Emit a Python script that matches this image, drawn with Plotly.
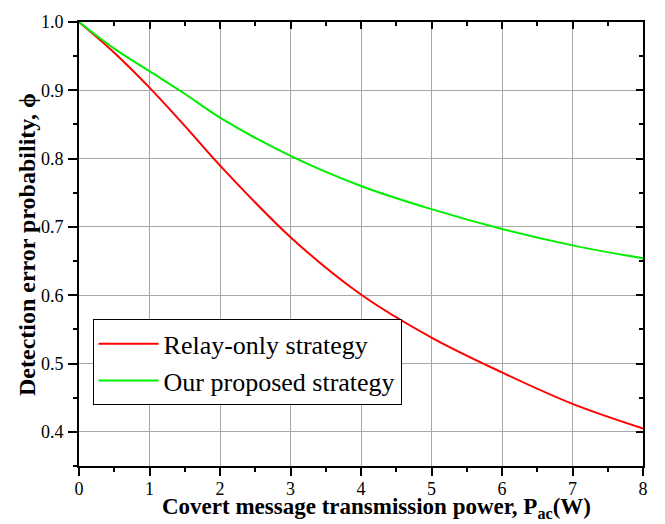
import plotly.graph_objects as go

power = [0, 0.5, 1, 1.5, 2, 3, 4, 5, 6, 7, 8]
relay_only = [1.0, 0.955, 0.904, 0.848, 0.790, 0.685, 0.601, 0.538, 0.487, 0.441, 0.405]
proposed = [1.0, 0.961, 0.928, 0.895, 0.860, 0.804, 0.760, 0.726, 0.697, 0.673, 0.654]

series_names = ["Relay-only strategy", "Our proposed strategy"]
x_title = "<b>Covert message transmission power, P<sub>ac</sub>(W)</b>"
y_title = "<b>Detection error probability, ϕ</b>"

FONT = "Liberation Serif, Times New Roman, serif"

fig = go.Figure()
fig.add_trace(go.Scatter(x=power, y=relay_only, mode="lines", name=series_names[0],
                         line=dict(color="#ff0000", width=2, shape="spline")))
fig.add_trace(go.Scatter(x=power, y=proposed, mode="lines", name=series_names[1],
                         line=dict(color="#00ee00", width=2, shape="spline")))
# invisible trace to activate secondary axes
fig.add_trace(go.Scatter(x=[0], y=[1.0], xaxis="x2", yaxis="y2", mode="markers",
                         marker=dict(opacity=0), showlegend=False, hoverinfo="skip"))

fig.update_layout(
    width=665, height=524,
    margin=dict(l=79, r=22, t=12, b=58),
    paper_bgcolor="white", plot_bgcolor="white",
    font=dict(family=FONT, size=18, color="black"),
    showlegend=True,
    legend=dict(x=0.024, y=1 - (316 - 12) / 454, xanchor="left", yanchor="top",
                bordercolor="black", borderwidth=1, bgcolor="white",
                font=dict(family=FONT, size=26, color="black"),
                tracegroupgap=0, itemwidth=60),
    xaxis=dict(range=[0, 8], dtick=1, tick0=0, showgrid=True, gridcolor="#a8a8a8", gridwidth=1,
               showline=True, linecolor="black", linewidth=2, ticks="outside", ticklen=8,
               tickwidth=2, tickcolor="black", zeroline=False, ticklabelstandoff=-3,
               minor=dict(dtick=0.5, ticks="outside", ticklen=4, tickwidth=2, tickcolor="black", showgrid=False),
               tickfont=dict(family=FONT, size=18)),
    yaxis=dict(range=[0.35, 1.0], dtick=0.1, tick0=0.4, tickformat=".1f", showgrid=True,
               gridcolor="#a8a8a8", gridwidth=1,
               showline=True, linecolor="black", linewidth=2, ticks="outside", ticklen=9,
               tickwidth=2, tickcolor="black", zeroline=False, ticklabelstandoff=1,
               minor=dict(dtick=0.05, tick0=0.35, ticks="outside", ticklen=4, tickwidth=2, tickcolor="black", showgrid=False),
               tickfont=dict(family=FONT, size=18)),
    xaxis2=dict(range=[0, 8], dtick=1, overlaying="x", side="top", showgrid=False,
                showline=True, linecolor="black", linewidth=2, ticks="inside", ticklen=7,
                tickwidth=2, tickcolor="black", showticklabels=False, zeroline=False,
                minor=dict(dtick=0.5, ticks="inside", ticklen=4, tickwidth=2, tickcolor="black")),
    yaxis2=dict(range=[0.35, 1.0], dtick=0.1, tick0=0.4, overlaying="y", side="right", showgrid=False,
                showline=True, linecolor="black", linewidth=2, ticks="inside", ticklen=7,
                tickwidth=2, tickcolor="black", showticklabels=False, zeroline=False,
                minor=dict(dtick=0.05, tick0=0.35, ticks="inside", ticklen=4, tickwidth=2, tickcolor="black")),
    annotations=[
        dict(text=x_title, xref="paper", yref="paper", x=(376 - 79) / 564, y=-(509 - 466) / 454,
             xanchor="center", yanchor="middle", showarrow=False,
             font=dict(family=FONT, size=23, color="black")),
        dict(text=y_title, xref="paper", yref="paper", x=-(79 - 27) / 564, y=1 - (240 - 12) / 454,
             xanchor="center", yanchor="middle", textangle=-90, showarrow=False,
             font=dict(family=FONT, size=24, color="black")),
    ],
)

fig.write_html("out.html")
